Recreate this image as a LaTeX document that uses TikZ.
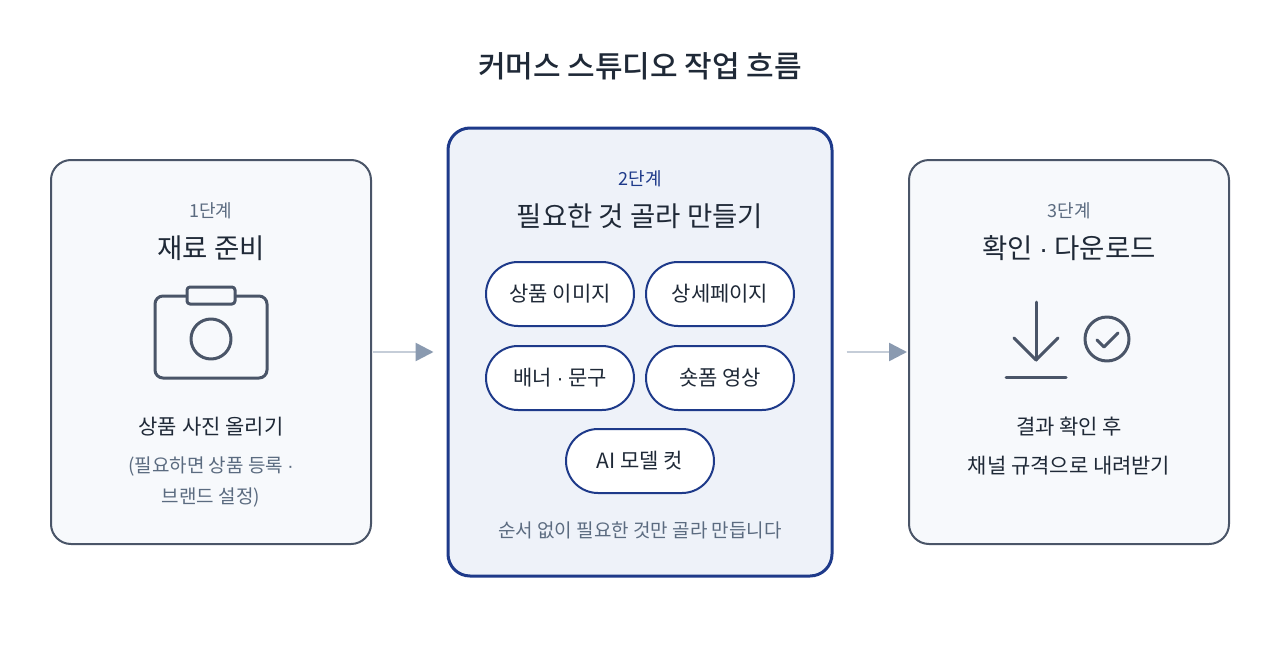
\documentclass[tikz,border=0pt]{standalone}
\usepackage{fontspec}
\setmainfont{Noto Sans CJK KR}
\newfontfamily\boldkr{Noto Sans CJK KR Medium}
\newfontfamily\dotfont{Liberation Sans}
\newcommand{\mdot}{{\dotfont ·}}
\usetikzlibrary{positioning,arrows.meta}
\definecolor{inkdark}{HTML}{1F2937}
\definecolor{inkgray}{HTML}{5B6B80}
\definecolor{boxline}{HTML}{4A5568}
\definecolor{boxfill}{HTML}{F7F9FC}
\definecolor{navy}{HTML}{1E3A8A}
\definecolor{midfill}{HTML}{EEF2F9}
\definecolor{arrline}{HTML}{C5CDD8}
\definecolor{arrhead}{HTML}{8A9AB0}
\tikzset{
  stepbox/.style={draw=boxline,line width=2pt,fill=boxfill,rounded corners=20pt,minimum width=320pt,minimum height=384pt},
  midbox/.style={draw=navy,line width=3pt,fill=midfill,rounded corners=22pt,minimum width=384pt,minimum height=448pt},
  pill/.style={draw=navy,line width=2pt,fill=white,rounded corners=32pt,minimum width=148pt,minimum height=64pt,font=\fontsize{21}{24}\selectfont,text=inkdark},
  steplabel/.style={font=\fontsize{18}{21}\selectfont,text=inkgray},
  steptitle/.style={font=\fontsize{27.5}{32}\selectfont,text=inkdark},
  bodytext/.style={font=\fontsize{21}{24}\selectfont,text=inkdark},
  notetext/.style={font=\fontsize{19}{22}\selectfont,text=inkgray},
  flow/.style={draw=arrline,line width=2.5pt,-{Triangle[length=18pt,width=18pt,fill=arrhead,color=arrhead]}},
  icon/.style={draw=boxline,line width=3pt,line cap=round,line join=round}
}
\begin{document}
\begin{tikzpicture}[x=1pt,y=-1pt]
\useasboundingbox[fill=white] (0,0) rectangle (1280,672);

\node[font=\boldkr\fontsize{30}{34}\selectfont,text=inkdark] (title) at (640,66) {커머스 스튜디오 작업 흐름};

% -- step boxes
\node[stepbox] (prep) at (211,352) {};
\node[midbox] (make) at (640,352) {};
\node[stepbox] (down) at (1069,352) {};

\draw[flow,shorten <=1pt,shorten >=13pt] (prep.east) -- (make.west);
\draw[flow,shorten <=13pt,shorten >=1pt] (make.east) -- (down.west);

% -- step 1
\node[steplabel] (prepnum) at (211,211) {1단계};
\node[steptitle] (prephead) at (211,248) {재료 준비};
\draw[icon,rounded corners=8pt] (155,296) rectangle (267,378);
\draw[icon,rounded corners=3pt,fill=boxfill] (187,287) rectangle (235,304);
\draw[icon] (211,339) circle (20);
\node[bodytext] (preptext) at (211,427) {상품 사진 올리기};
\node[notetext] (prepnote) at (211,466) {(필요하면 상품 등록 \mdot};
\node[notetext] (prepnote2) at (211,497) {브랜드 설정)};

% -- step 2
\node[font=\fontsize{18}{21}\selectfont,text=navy] (makenum) at (640,179) {2단계};
\node[steptitle] (makehead) at (640,216) {필요한 것 골라 만들기};
\node[pill] (img) at (560,294) {상품 이미지};
\node[pill] (detail) at (720,294) {상세페이지};
\node[pill] (banner) at (560,378) {배너 \mdot{} 문구};
\node[pill] (short) at (720,378) {숏폼 영상};
\node[pill] (model) at (640,461) {AI 모델 컷};
\node[notetext] (makenote) at (640,530) {순서 없이 필요한 것만 골라 만듭니다};

% -- step 3
\node[steplabel] (downnum) at (1069,211) {3단계};
\node[steptitle] (downhead) at (1069,248) {확인 \mdot{} 다운로드};
\draw[icon] (1036,302) -- (1036,360);
\draw[icon] (1014,338) -- (1036,360) -- (1058,338);
\draw[icon] (1006,377) -- (1066,377);
\draw[icon] (1107,339) circle (22);
\draw[icon] (1097,340) -- (1104,347) -- (1118,333);
\node[bodytext] (downtext) at (1069,427) {결과 확인 후};
\node[bodytext] (downtext2) at (1069,466) {채널 규격으로 내려받기};
\end{tikzpicture}
\end{document}
